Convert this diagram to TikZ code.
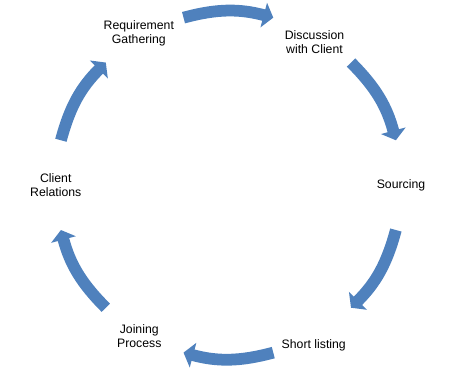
\documentclass[tikz,border=0pt]{standalone}
\usepackage{fontspec}
\setmainfont{Liberation Sans}
\usepackage{tikz}
\usetikzlibrary{arrows.meta,positioning}
\definecolor{cFlow}{HTML}{4F81BD}

\begin{document}
\begin{tikzpicture}[
  stage/.style={
    align=center, inner sep=1pt,
    font=\fontsize{9.2}{10.6}\selectfont, text=black
  },
  cycarrow/.style={
    draw=cFlow, line width=0.31cm,
    -{Triangle[length=0.26cm, width=0.66cm]}
  },
]
\useasboundingbox (-6.02,-5.09) rectangle (5.92,4.88);
% Stages
\node[stage] (req)    at (-2.36, 4.01) {Requirement\\Gathering};
\node[stage] (disc)   at ( 2.27, 3.77) {Discussion\\with Client};
\node[stage] (src)    at ( 4.55, 0.00) {Sourcing};
\node[stage] (short)  at ( 2.25,-4.22) {Short listing};
\node[stage] (join)   at (-2.35,-3.99) {Joining\\Process};
\node[stage] (client) at (-4.55, 0.00) {Client\\Relations};
% Arrow ends on the circle
\coordinate (a1s) at (105:4.57);  \coordinate (a1e) at (75:4.57);
\coordinate (a2s) at (45:4.57);   \coordinate (a2e) at (15:4.57);
\coordinate (a3s) at (-15:4.57);  \coordinate (a3e) at (-45:4.57);
\coordinate (a4s) at (-75:4.57);  \coordinate (a4e) at (-105:4.57);
\coordinate (a5s) at (-135:4.57); \coordinate (a5e) at (-165:4.57);
\coordinate (a6s) at (165:4.57);  \coordinate (a6e) at (135:4.57);
% Arrows
\draw[cycarrow] (a1s) to[bend left=15] (a1e);
\draw[cycarrow] (a2s) to[bend left=15] (a2e);
\draw[cycarrow] (a3s) to[bend left=15] (a3e);
\draw[cycarrow] (a4s) to[bend left=15] (a4e);
\draw[cycarrow] (a5s) to[bend left=15] (a5e);
\draw[cycarrow] (a6s) to[bend left=15] (a6e);
\end{tikzpicture}
\end{document}
